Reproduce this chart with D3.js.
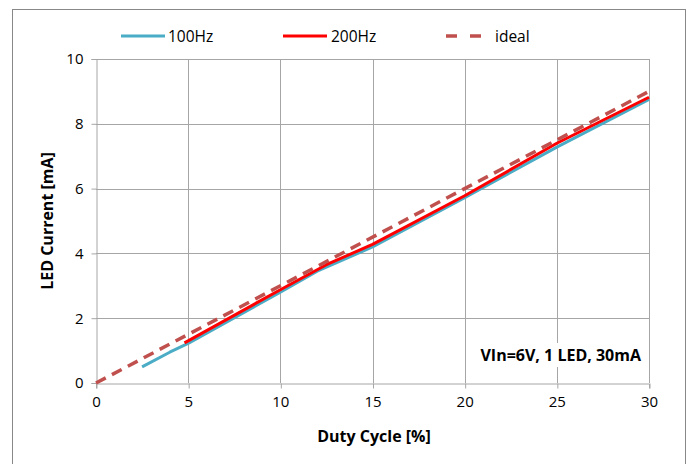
<!DOCTYPE html>
<html><head><meta charset="utf-8">
<script src="https://cdn.jsdelivr.net/npm/d3@7/dist/d3.min.js"></script>
<style>body{margin:0;background:#fff}svg{display:block}text{font-family:"Open Sans","Noto Sans",sans-serif;fill:#000}</style>
</head><body>
<script>
const xTicks = [0, 5, 10, 15, 20, 25, 30];
const yTicks = [0, 2, 4, 6, 8, 10];
const duty100 = [2.5, 4, 5, 10, 12, 15, 20, 25, 30];
const current100 = [0.5, 0.95, 1.22, 2.8, 3.45, 4.2, 5.72, 7.28, 8.75];
const duty200 = [4.8, 10, 12.5, 15, 20, 25, 30];
const current200 = [1.24, 2.88, 3.65, 4.28, 5.78, 7.4, 8.82];
const dutyIdeal = [0, 30];
const currentIdeal = [0, 9];
const seriesNames = ["100Hz", "200Hz", "ideal"];
const annotation = "VIn=6V, 1 LED, 30mA";

const W = 689, H = 464;
const svg = d3.select("body").append("svg").attr("width", W).attr("height", H);
svg.append("rect").attr("x", 12.5).attr("y", 9.5).attr("width", 673).attr("height", 470)
  .attr("fill", "#fff").attr("stroke", "#888").attr("stroke-width", 1);

const x = d3.scaleLinear().domain([0, 30]).range([96, 649]);
const y = d3.scaleLinear().domain([0, 10]).range([383, 59]);
const grid = "#a6a6a6";

// gridlines
svg.append("g").selectAll("line.v").data(xTicks.slice(1)).join("line")
  .attr("x1", d => Math.round(x(d)) + 0.5).attr("x2", d => Math.round(x(d)) + 0.5)
  .attr("y1", y(10)).attr("y2", y(0)).attr("stroke", grid);
svg.append("g").selectAll("line.h").data(yTicks.slice(1)).join("line")
  .attr("x1", x(0)).attr("x2", x(30))
  .attr("y1", d => Math.round(y(d)) + 0.5).attr("y2", d => Math.round(y(d)) + 0.5).attr("stroke", grid);

// axes
const xAxis = svg.append("g").attr("transform", `translate(0,${Math.round(y(0)) + 0.5})`)
  .call(d3.axisBottom(x).tickValues(xTicks).tickSize(5).tickPadding(8).tickFormat(d3.format("d")));
const yAxis = svg.append("g").attr("transform", `translate(${Math.round(x(0)) + 0.5},0)`)
  .call(d3.axisLeft(y).tickValues(yTicks).tickSize(5).tickPadding(8).tickFormat(d3.format("d")));
[xAxis, yAxis].forEach(a => {
  a.select(".domain").attr("stroke", grid);
  a.selectAll(".tick line").attr("stroke", grid);
  a.selectAll(".tick text").attr("font-size", 15).attr("fill", "#222")
    .style("font-family", '"Open Sans","Noto Sans",sans-serif');
});
xAxis.selectAll(".tick line").attr("transform", "translate(0.5,0)");

// annotation
const ann = svg.append("g");
const annText = ann.append("text").attr("x", 641).attr("y", 361).attr("text-anchor", "end")
  .attr("font-size", 16).attr("font-weight", "bold").text(annotation);
const bb = annText.node().getBBox();
ann.insert("rect", "text").attr("x", bb.x - 3).attr("y", bb.y - 1).attr("width", bb.width + 6)
  .attr("height", bb.height + 2).attr("fill", "#fff");

// lines
const line = d3.line().x(d => x(d[0])).y(d => y(d[1]));
const colors = ["#4bacc6", "#ff0000", "#c0504d"];
svg.append("path").datum(duty100.map((d, i) => [d, current100[i]])).attr("d", line)
  .attr("fill", "none").attr("stroke", colors[0]).attr("stroke-width", 3).attr("stroke-linejoin", "round");
svg.append("path").datum(duty200.map((d, i) => [d, current200[i]])).attr("d", line)
  .attr("fill", "none").attr("stroke", colors[1]).attr("stroke-width", 3).attr("stroke-linejoin", "round");
svg.append("path").datum(dutyIdeal.map((d, i) => [d, currentIdeal[i]])).attr("d", line)
  .attr("fill", "none").attr("stroke", colors[2]).attr("stroke-width", 3.5)
  .attr("stroke-dasharray", "11,7");

// axis titles
svg.append("text").attr("x", 374).attr("y", 442).attr("text-anchor", "middle")
  .attr("font-size", 16).attr("font-weight", "bold").text("Duty Cycle [%]");
svg.append("text").attr("transform", "translate(53,221) rotate(-90)").attr("text-anchor", "middle")
  .attr("font-size", 16).attr("font-weight", "bold").text("LED Current [mA]");

// legend
const legX = [121, 283, 446];
const legTextX = [168, 331, 495];
seriesNames.forEach((n, i) => {
  svg.append("line").attr("x1", legX[i]).attr("x2", legX[i] + (i === 2 ? 36 : 44))
    .attr("y1", 36).attr("y2", 36).attr("stroke", colors[i])
    .attr("stroke-width", i === 2 ? 3.5 : 3)
    .attr("stroke-dasharray", i === 2 ? "11,13" : null);
  svg.append("text").attr("x", legTextX[i]).attr("y", 42).attr("font-size", 15.5)
    .attr("fill", "#222").text(n);
});
</script>
</body></html>
